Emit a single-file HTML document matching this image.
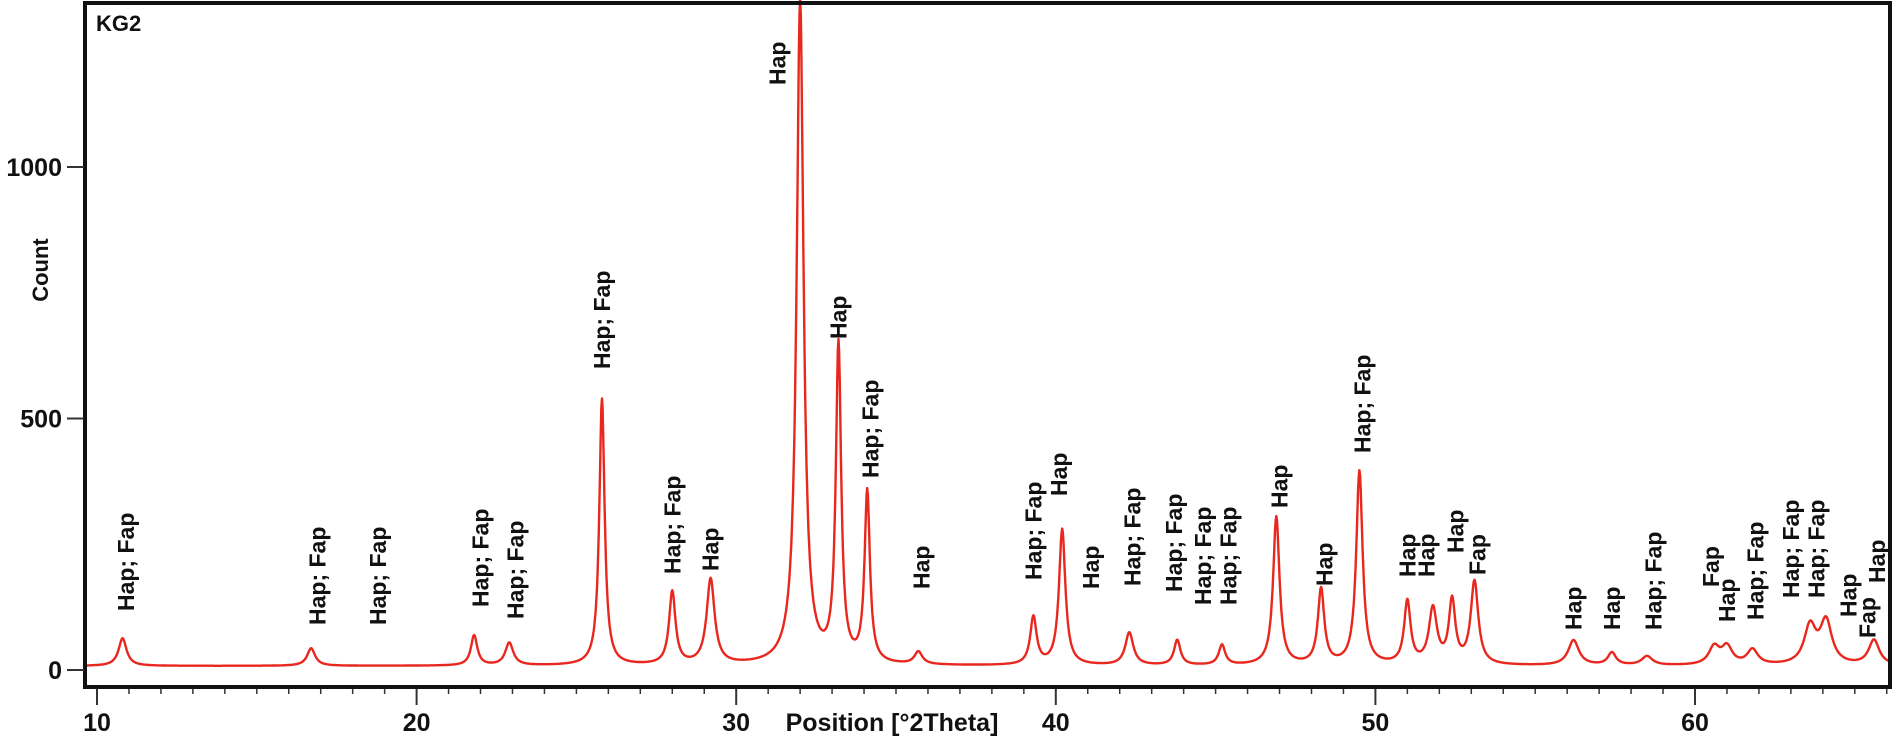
<!DOCTYPE html>
<html><head><meta charset="utf-8"><style>
html,body{margin:0;padding:0;background:#fff;}
svg{display:block;font-family:"Liberation Sans",Arial,sans-serif;}
</style></head><body>
<svg id="chart" width="1896" height="740" viewBox="0 0 1896 740">
<g id="labels"></g>
<path id="curve" fill="none" stroke="#e8281e" stroke-width="2.4" stroke-linejoin="round"></path>
<rect x="85" y="3" width="1805" height="684" fill="none" stroke="#111" stroke-width="4"></rect>
<text x="96" y="31" font-size="22" font-weight="bold" fill="#111">KG2</text>
<g id="axes"></g>
<text x="892" y="731" font-size="25" font-weight="bold" fill="#111" text-anchor="middle">Position [°2Theta]</text>
<text x="48" y="270" font-size="22" font-weight="bold" fill="#111" text-anchor="middle" transform="rotate(-90,48,270)">Count</text>
</svg>
<script>
var peakPos=[10.8,16.7,21.8,22.9,25.8,28.0,29.2,32.0,33.2,34.1,35.7,39.3,40.2,42.3,43.8,45.2,46.9,48.3,49.5,51.0,51.8,52.4,53.1,56.2,57.4,58.5,60.6,61.0,61.8,63.6,64.1,65.6];
var peakHeight=[55,35,60,45,530,145,170,1320,630,340,25,95,270,65,50,40,295,150,385,125,110,125,165,50,25,18,35,35,30,75,85,50];
var peakWidth=[0.15,0.15,0.12,0.15,0.1,0.12,0.15,0.13,0.1,0.1,0.15,0.12,0.12,0.15,0.12,0.12,0.12,0.12,0.12,0.12,0.15,0.12,0.14,0.2,0.15,0.2,0.2,0.2,0.2,0.22,0.22,0.2];
var baseline=8;
var xTicks=[10,20,30,40,50,60];
var yTicks=[0,500,1000];
var labelText=["Hap; Fap","Hap; Fap","Hap; Fap","Hap; Fap","Hap; Fap","Hap; Fap","Hap; Fap","Hap","Hap","Hap","Hap; Fap","Hap","Hap; Fap","Hap","Hap","Hap; Fap","Hap; Fap","Hap; Fap","Hap; Fap","Hap","Hap","Hap; Fap","Hap","Hap","Hap","Fap","Hap","Hap","Hap; Fap","Fap","Hap","Hap; Fap","Hap; Fap","Hap; Fap","Hap","Fap","Hap"];
var labelPos=[10.9,16.9,18.8,22.0,23.1,25.8,28.0,29.2,31.3,33.2,34.2,35.8,39.3,40.1,41.1,42.4,43.7,44.6,45.4,47.0,48.4,49.6,51.0,51.6,52.5,53.2,56.2,57.4,58.7,60.5,61.0,61.9,63.0,63.8,64.8,65.4,65.7];
var labelBase=[611,625,625,607,619,369,574,571,85,339,478,589,580,496,589,586,592,605,605,508,586,453,577,577,553,575,630,630,630,587,622,620,598,598,617,638,583];

var X0=9.62,X1=66.1,SY=0.503;
function xs(v){return 97+31.96*(v-10);}
function ys(c){return 670-SY*c;}
var NS="http://www.w3.org/2000/svg";
function intensity(t){var s=baseline;for(var i=0;i<peakPos.length;i++){var d=(t-peakPos[i])/peakWidth[i];s+=peakHeight[i]/(1+d*d);}return s;}
var d="";
for(var t=X0;t<=X1;t+=0.02){var c=intensity(t);d+=(d?"L":"M")+xs(t).toFixed(1)+","+ys(c).toFixed(1);}
document.getElementById('curve').setAttribute('d',d);

var ax=document.getElementById('axes');
for(var v=10;v<=66;v++){
  var major=xTicks.indexOf(v)>=0;
  var l=document.createElementNS(NS,'line');
  l.setAttribute('x1',xs(v));l.setAttribute('x2',xs(v));
  l.setAttribute('y1',689);l.setAttribute('y2',major?705:694);
  l.setAttribute('stroke','#333');l.setAttribute('stroke-width',major?2:1.5);
  
  
  ax.appendChild(l);
}
xTicks.forEach(function(v){
  var tx=document.createElementNS(NS,'text');
  tx.setAttribute('x',xs(v));tx.setAttribute('y',731);
  tx.setAttribute('text-anchor','middle');tx.setAttribute('font-size','25');tx.setAttribute('font-weight','bold');tx.setAttribute('fill','#111');
  tx.textContent=v;
  
  
  ax.appendChild(tx);
});
yTicks.forEach(function(v){
  var l=document.createElementNS(NS,'line');
  l.setAttribute('x1',67);l.setAttribute('x2',84);l.setAttribute('y1',ys(v));l.setAttribute('y2',ys(v));
  l.setAttribute('stroke','#333');l.setAttribute('stroke-width',2);
  
  
  ax.appendChild(l);
  var tx=document.createElementNS(NS,'text');
  tx.setAttribute('x',62);tx.setAttribute('y',ys(v)+9);
  tx.setAttribute('text-anchor','end');tx.setAttribute('font-size','25');tx.setAttribute('font-weight','bold');tx.setAttribute('fill','#111');
  tx.textContent=v;
  
  
  ax.appendChild(tx);
});
var lg=document.getElementById('labels');
labelText.forEach(function(s,i){
  var x=xs(labelPos[i])+8,y=labelBase[i];
  var tx=document.createElementNS(NS,'text');
  tx.setAttribute('x',x);tx.setAttribute('y',y);
  tx.setAttribute('transform','rotate(-90,'+x+','+y+')');
  tx.setAttribute('font-size','23');tx.setAttribute('font-weight','bold');tx.setAttribute('fill','#111');
  tx.textContent=s;
  
  
  lg.appendChild(tx);
});
</script>
</body></html>
